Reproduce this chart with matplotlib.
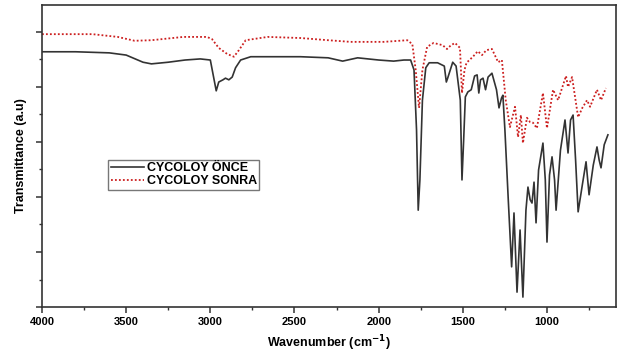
import matplotlib
matplotlib.use("Agg")
import matplotlib.pyplot as plt
from matplotlib.ticker import MultipleLocator, NullFormatter

plt.rcParams['font.family'] = ['Liberation Sans', 'DejaVu Sans']

# FTIR spectra (wavenumber cm-1, transmittance a.u.)
wn_once = [4000, 3800, 3600, 3500, 3400, 3350, 3250, 3150, 3060, 3000,
           2965, 2950, 2925, 2910, 2890, 2870, 2850, 2820, 2760, 2600,
           2464, 2300, 2214, 2125, 2000, 1911, 1850, 1810, 1790, 1775,
           1765, 1755, 1740, 1720, 1700, 1650, 1610, 1598, 1590, 1560,
           1540, 1515, 1505, 1495, 1485, 1470, 1450, 1430, 1415, 1405,
           1395, 1380, 1365, 1350, 1327, 1300, 1285, 1270, 1262, 1250,
           1230, 1210, 1196, 1178, 1160, 1143, 1125, 1113, 1100, 1089,
           1077, 1065, 1050, 1024, 1010, 1000, 985, 970, 955, 946,
           920, 893, 875, 860, 845, 830, 815, 790, 768, 750,
           725, 703, 690, 679, 660, 638]
t_once = [4.64, 4.64, 4.62, 4.58, 4.45, 4.42, 4.45, 4.49, 4.51, 4.49,
          3.93, 4.09, 4.13, 4.16, 4.13, 4.18, 4.35, 4.49, 4.55, 4.55,
          4.55, 4.53, 4.47, 4.53, 4.49, 4.47, 4.49, 4.49, 4.31, 3.22,
          1.76, 2.31, 3.76, 4.35, 4.44, 4.44, 4.38, 4.09, 4.16, 4.45,
          4.38, 3.76, 2.31, 3.04, 3.82, 3.91, 3.95, 4.20, 4.22, 3.89,
          4.13, 4.16, 3.95, 4.18, 4.25, 3.95, 3.62, 3.80, 3.85, 3.22,
          1.95, 0.73, 1.71, 0.27, 1.40, 0.18, 1.76, 2.18, 1.95, 1.89,
          2.27, 1.53, 2.49, 2.98, 2.31, 1.18, 2.40, 2.73, 2.31, 1.76,
          2.85, 3.40, 2.80, 3.40, 3.49, 2.67, 1.73, 2.22, 2.64, 2.04,
          2.58, 2.91, 2.67, 2.53, 2.95, 3.13]

wn_sonra = [4000, 3700, 3550, 3450, 3350, 3160, 3020, 2990, 2950, 2900,
            2860, 2830, 2790, 2660, 2464, 2300, 2167, 1970, 1830, 1800,
            1780, 1760, 1740, 1712, 1674, 1620, 1594, 1570, 1546, 1517,
            1505, 1490, 1478, 1440, 1411, 1386, 1360, 1327, 1290, 1268,
            1245, 1220, 1190, 1172, 1155, 1143, 1119, 1100, 1083, 1060,
            1024, 1000, 964, 934, 887, 875, 851, 815, 790, 762,
            744, 703, 679, 650]
t_sonra = [4.96, 4.96, 4.91, 4.84, 4.85, 4.91, 4.91, 4.87, 4.71, 4.60,
           4.55, 4.67, 4.85, 4.91, 4.89, 4.85, 4.82, 4.82, 4.85, 4.78,
           4.31, 3.62, 4.31, 4.73, 4.80, 4.76, 4.69, 4.76, 4.80, 4.71,
           3.89, 4.31, 4.44, 4.55, 4.65, 4.58, 4.67, 4.69, 4.45, 4.49,
           3.76, 3.27, 3.64, 3.09, 3.49, 2.98, 3.44, 3.36, 3.35, 3.25,
           3.89, 3.25, 3.95, 3.76, 4.20, 4.00, 4.18, 3.45, 3.62, 3.76,
           3.64, 3.95, 3.76, 3.98]

fig = plt.figure(figsize=(6.25, 3.53), dpi=100)
ax = fig.add_axes([0.0672, 0.1303, 0.9184, 0.8555])

ax.plot(wn_once, t_once, color='#333333', lw=1.2, label='CYCOLOY ÖNCE')
ax.plot(wn_sonra, t_sonra, color='#cc1f1f', lw=1.3, ls=(0, (1, 1.2)),
        label='CYCOLOY SONRA')

ax.set_xlim(4000, 590)
ax.set_ylim(0, 5.49)

# ticks: labels on x only, y has bare ticks
ax.xaxis.set_major_locator(MultipleLocator(500))
ax.xaxis.set_minor_locator(MultipleLocator(250))
ax.yaxis.set_major_locator(MultipleLocator(1))
ax.yaxis.set_minor_locator(MultipleLocator(0.5))
ax.yaxis.set_major_formatter(NullFormatter())
ax.tick_params(which='major', direction='out', length=4, width=1.1,
               color='#333333', labelsize=8)
ax.tick_params(which='minor', direction='out', length=2.5, width=1,
               color='#333333')
for lab in ax.get_xticklabels():
    lab.set_fontweight('bold')
for sp in ax.spines.values():
    sp.set_linewidth(1.2)
    sp.set_color('#333333')

ax.set_xlabel('Wavenumber (cm$^{\\mathbf{-1}}$)', fontsize=9,
              fontweight='bold', labelpad=4)
ax.set_ylabel('Transmittance (a.u)', fontsize=9, fontweight='bold',
              labelpad=3)

leg = ax.legend(loc='upper left', bbox_to_anchor=(0.115, 0.488),
                prop={'size': 9, 'weight': 'bold'}, frameon=True,
                fancybox=False, handlelength=2.7, borderpad=0.2,
                labelspacing=0.1, handletextpad=0.2, borderaxespad=0)
leg.get_frame().set_edgecolor('#555555')
leg.get_frame().set_linewidth(1.0)

fig.savefig('out.png', dpi=100)
